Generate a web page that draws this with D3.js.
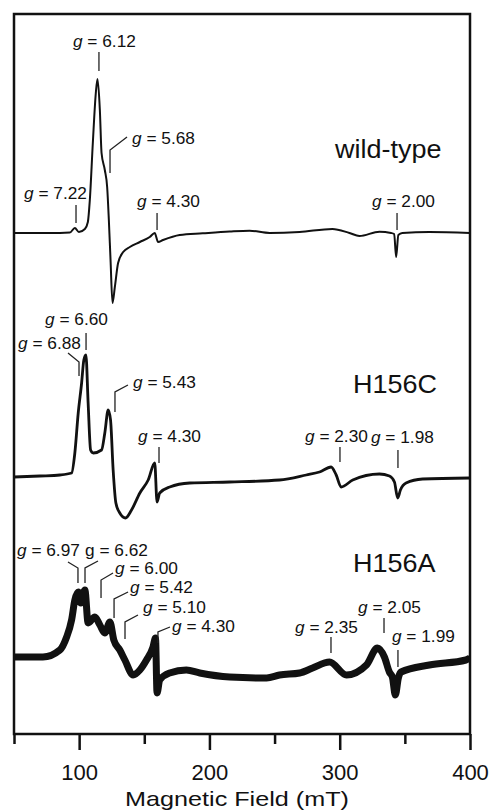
<!DOCTYPE html>
<html>
<head>
<meta charset="utf-8">
<script src="https://cdn.jsdelivr.net/npm/d3@7"></script>
<style>
  body { margin: 0; background: #fff; }
  text { font-family: "Liberation Sans", Arial, sans-serif; fill: #111; }
</style>
</head>
<body>
<svg id="chart" width="494" height="812"></svg>
<script>
// field axis (mT)
const fieldDomain = [50, 400];
const majorTicks = [100, 200, 300, 400];
const minorTicks = [50, 150, 250, 350];

const samples = ['wild-type', 'H156C', 'H156A'];
// where each spectrum sits in the stack (arbitrary intensity units)
const offsets = [501, 257, 77];

// wild-type
const wtField = [50, 77.6, 92.9, 96.7, 99.8, 104.4, 106.7, 108.2, 110.5, 112.8, 114.1, 115.9, 117.2, 119.7, 121.5,
  122.8, 124.1, 125.6, 127.4, 129.9, 133.8, 138.9, 146.6, 154.2, 158.0, 160.6, 164.4, 177.2, 194.8, 215.5,
  230.8, 246.2, 269.2, 294.4, 307.5, 315.1, 330.5, 339.4, 341.8, 343.3, 345.0, 348.1, 368.8, 400];
const wtSignal = [0, 0, 0.5, 5, 1, 4, 11, 33, 90, 140, 154, 123, 80, 63, 46,
  13, -27, -70, -54, -30, -19, -14, -9, -4, 0, -9, -7, -2, -0.3, 1.5,
  2.3, 0, 1, 4, 0, -3, 1.3, 0, -1, -24, -2, 0, 1, 0];

// H156C
const cField = [50, 69.9, 85.2, 94.2, 96.7, 99.3, 101.9, 103.6, 105.2, 106.9, 108.8, 110.8, 117.2, 119.7, 122.3,
  124.1, 126.1, 128.2, 131.2, 135.6, 140.2, 146.6, 153.0, 158.0, 159.8, 161.8, 169.5, 184.9, 215.5, 253.8,
  274.3, 284.5, 293.4, 297.3, 301.1, 310.0, 330.5, 338.2, 342.0, 344.5, 346.6, 350.9, 363.6, 400];
const cSignal = [0, 1, 2, 4, 24, 64, 94, 117, 122, 74, 27, 24, 27, 44, 67,
  57, 7, -26, -36, -41, -33, -16, -3, 14, -25, -16, -10, -6, -5, -3,
  2, 5, 10, 2, -10, -3, 3, 1, -5, -21, -13, -6, -2, -1];

// H156A (noisy)
const aField = [50, 72.2, 85.2, 90.4, 94.2, 96.7, 99.3, 101.3, 104.4, 106.9, 112.1, 115.9, 119.7, 123.6, 126.6,
  131.2, 135.1, 141.4, 146.6, 151.7, 156.7, 158.6, 159.8, 161.8, 169.5, 182.3, 192.6, 215.5, 243.9, 253.8,
  269.2, 279.2, 292.2, 305.2, 320.5, 328.9, 334.3, 338.1, 340.4, 342.7, 345.0, 347.1, 368.8, 396.9, 400];
const aSignal = [0, 0, 7, 20, 37, 57, 65, 54, 67, 34, 40, 32, 24, 35, 17,
  7, -3, -18, -13, -3, 10, 19, -36, -23, -16, -13, -16, -20, -21, -18,
  -16, -11, -5, -18, -8, 9, 0, -15, -20, -38, -21, -15, -8, -3, -1];

// g-value markers: label + field of the marker (mT)
const wtLabels = ['7.22', '6.12', '5.68', '4.30', '2.00'];
const wtMarkField = [97.6, 115.2, 123.7, 159.8, 344.0];
const cLabels = ['6.60', '6.88', '5.43', '4.30', '2.30', '1.98'];
const cMarkField = [105.3, 99.9, 127.5, 161.3, 300.2, 344.7];
const aLabels = ['6.97', '6.62', '6.00', '5.42', '5.10', '4.30', '2.35', '2.05', '1.99'];
const aMarkField = [99.1, 104.5, 116.8, 126.8, 135.2, 160.5, 293.3, 334.0, 344.7];

// marker geometry: tick ends (intensity over baseline), leader end and label offset in px from tick top
const wtMarkLayout = [
  { lo: 10, hi: 28, tx: -52, ty: -6 },
  { lo: 162, hi: 181, tx: -26, ty: -5 },
  { lo: 60, hi: 83, kx: 17, ky: -13, tx: 22, ty: -6 },
  { lo: 3, hi: 20, tx: -20, ty: -6 },
  { lo: 3, hi: 20, tx: -25, ty: -6 }
];
const cMarkLayout = [
  { lo: 127, hi: 144, tx: -41, ty: -8 },
  { lo: 101, hi: 115, kx: -11, ky: -9, tx: -61, ty: -13 },
  { lo: 65, hi: 85, kx: 13, ky: -7, tx: 18, ty: -4 },
  { lo: 14, hi: 30, tx: -21, ty: -5 },
  { lo: 15, hi: 30, tx: -35, ty: -5 },
  { lo: 9, hi: 27, tx: -27, ty: -7 }
];
const aMarkLayout = [
  { lo: 74, hi: 89, kx: -10, ky: -6, tx: -61, ty: -12 },
  { lo: 74, hi: 89, kx: 13, ky: -7, tx: 0, ty: -12, upright: true },
  { lo: 59, hi: 77, kx: 12, ky: -7, tx: 14, ty: -6 },
  { lo: 39, hi: 58, kx: 14, ky: -7, tx: 16, ty: -6 },
  { lo: 18, hi: 35, kx: 13, ky: -7, tx: 18, ty: -9 },
  { lo: 14, hi: 25, kx: 12, ky: -5, tx: 14, ty: 0 },
  { lo: 4, hi: 20, tx: -36, ty: -4 },
  { lo: 24, hi: 39, tx: -26, ty: -5 },
  { lo: -10, hi: 7, tx: -6, ty: -8 }
];

// sample name position: field of text start, height over baseline
const nameField = [296.4, 310.2, 310.2];
const nameLift = [75, 84, 85];

const traces = [
  { field: wtField, signal: wtSignal, labels: wtLabels, marks: wtMarkField, layout: wtMarkLayout, width: 2 },
  { field: cField, signal: cSignal, labels: cLabels, marks: cMarkField, layout: cMarkLayout, width: 2.8 },
  { field: aField, signal: aSignal, labels: aLabels, marks: aMarkField, layout: aMarkLayout, width: 7 }
];

const svg = d3.select('#chart');
const plotL = 14, plotR = 470, plotT = 14, plotB = 734;

const x = d3.scaleLinear().domain(fieldDomain).range([plotL, plotR]);
const y = d3.scaleLinear().domain([0, 720]).range([plotB, plotT]);

svg.append('clipPath').attr('id', 'plot')
  .append('rect').attr('x', plotL).attr('y', plotT).attr('width', plotR - plotL).attr('height', plotB - plotT);

// stretched text helper (the original lettering is a bit wide)
function label(g, px, py, size, sx) {
  return g.append('text')
    .attr('transform', `translate(${px},${py}) scale(${sx},1)`)
    .style('font-size', size + 'px');
}

traces.forEach((t, i) => {
  const off = offsets[i];
  const pts = t.field.map((f, j) => [f, t.signal[j]]);
  const line = d3.line()
    .x(d => x(d[0]))
    .y(d => y(d[1] + off))
    .curve(d3.curveMonotoneX);

  svg.append('path')
    .attr('clip-path', 'url(#plot)')
    .attr('d', line(pts))
    .attr('fill', 'none')
    .attr('stroke', '#111')
    .attr('stroke-width', t.width)
    .attr('stroke-linejoin', 'round');

  // g markers
  t.marks.forEach((f, j) => {
    const m = t.layout[j];
    const mx = x(f), y0 = y(off + m.lo), y1 = y(off + m.hi);
    let d = `M${mx},${y0}V${y1}`;
    if (m.kx !== undefined) d += `l${m.kx},${m.ky}`;
    svg.append('path').attr('d', d)
      .attr('fill', 'none').attr('stroke', '#222').attr('stroke-width', 1.3);

    const tx = label(svg, mx + m.tx, y1 + m.ty, 16, 1.08);
    tx.append('tspan').style('font-style', m.upright ? 'normal' : 'italic').text('g');
    tx.append('tspan').text(' = ' + t.labels[j]);
  });

  label(svg, x(nameField[i]), y(off + nameLift[i]), 25, 1.08).text(samples[i]);
});

// frame
svg.append('rect')
  .attr('x', plotL).attr('y', plotT)
  .attr('width', plotR - plotL).attr('height', plotB - plotT)
  .attr('fill', 'none').attr('stroke', '#111').attr('stroke-width', 2.5);

// axis
const axisMajor = d3.axisBottom(x).tickValues(majorTicks).tickSize(16).tickPadding(14).tickFormat(d3.format('d'));
const axisMinor = d3.axisBottom(x).tickValues(minorTicks).tickSize(10).tickFormat('');

const gMin = svg.append('g').attr('transform', `translate(0,${plotB})`).call(axisMinor);
const gMaj = svg.append('g').attr('transform', `translate(0,${plotB})`).call(axisMajor);
[gMin, gMaj].forEach(g => {
  g.select('.domain').remove();
  g.selectAll('line').attr('stroke', '#111').attr('stroke-width', 2.5);
});
gMaj.selectAll('text')
  .style('font-family', '"Liberation Sans", Arial, sans-serif')
  .style('font-size', '22px')
  .attr('fill', '#111');

svg.append('text')
  .attr('x', (plotL + plotR) / 2 - 5)
  .attr('y', 806)
  .attr('text-anchor', 'middle')
  .attr('textLength', 224)
  .attr('lengthAdjust', 'spacingAndGlyphs')
  .style('font-size', '21px')
  .text('Magnetic Field (mT)');
</script>
</body>
</html>
